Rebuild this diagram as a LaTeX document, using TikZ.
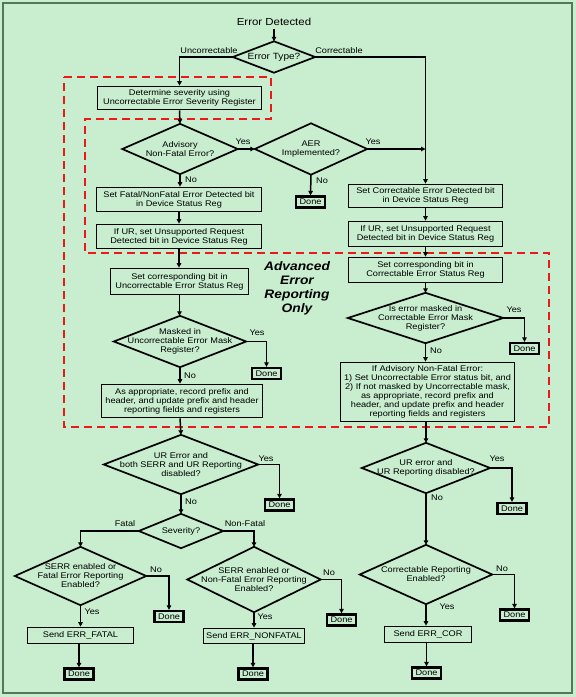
\documentclass[tikz,border=0pt]{standalone}
\usepackage{fontspec}
\setmainfont{Liberation Sans}[FakeStretch=1.12]
\usetikzlibrary{arrows.meta}
\definecolor{bg}{RGB}{200,237,207}
\definecolor{frame}{RGB}{85,118,92}
\definecolor{aerred}{RGB}{235,25,25}
\newcommand\fsm{\fontsize{8.2}{9}\selectfont}
\tikzset{
  box/.style={draw, line width=1.7pt, inner sep=0pt, align=center, font=\fsm},
  donebox/.style={draw, line width=2.3pt, inner sep=0pt, minimum width=29pt, minimum height=11pt, font=\fsm},
  dia/.style={inner sep=0pt, align=center, font=\fsm},
  diaedge/.style={draw, line width=1.7pt, line join=miter},
  arr/.style={line width=1.5pt, -{Triangle[length=4.5pt,width=4.5pt]}},
  lbl/.style={font=\fsm, inner sep=0pt},
  aerbox/.style={draw=aerred, line width=2.2pt, dash pattern=on 8pt off 5pt}
}
\newcommand\diamondof[1]{\draw[diaedge] (#1.north) -- (#1.east) -- (#1.south) -- (#1.west) -- cycle;}
\begin{document}
\begin{tikzpicture}[x=1pt,y=-1pt]
\useasboundingbox (0,0) rectangle (576,697);
\fill[bg] (0,0) rectangle (576,697);
\draw[frame, line width=2pt] (3,3) rectangle (572,693);

% red dashed region
\draw[aerbox] (64,77) -- (271,77) -- (271,119) -- (85,119) -- (85,253) -- (549,253) -- (549,427) -- (64,427) -- cycle;

% nodes
\node[font=\fontsize{10.2}{12}\selectfont] (start) at (274,22) {Error Detected};
\node[dia, minimum width=82pt, minimum height=31pt, font=\fontsize{9}{10}\selectfont] (et) at (274,57) {Error Type?};
\node[box, minimum width=164pt, minimum height=23pt] (sev1) at (179.5,98) {Determine severity using\\Uncorrectable Error Severity Register};
\node[dia, minimum width=115pt, minimum height=50pt] (adv) at (180,149) {Advisory\\Non-Fatal Error?};
\node[dia, minimum width=112pt, minimum height=51pt] (aer) at (311,149) {AER\\Implemented?};
\node[donebox] (done1) at (310.5,202) {Done};
\node[box, minimum width=165pt, minimum height=24pt] (fatalbit) at (179,199.5) {Set Fatal/NonFatal Error Detected bit\\in Device Status Reg};
\node[box, minimum width=165pt, minimum height=24pt] (urL) at (179,236.5) {If UR, set Unsupported Request\\Detected bit in Device Status Reg};
\node[box, minimum width=154pt, minimum height=23pt] (corbit) at (425.5,196) {Set Correctable Error Detected bit\\in Device Status Reg};
\node[box, minimum width=154pt, minimum height=25pt] (urR) at (425.5,234) {If UR, set Unsupported Request\\Detected bit in Device Status Reg};
\node[box, minimum width=138pt, minimum height=26pt] (setL) at (179.5,281.5) {Set corresponding bit in\\Uncorrectable Error Status Reg};
\node[dia, minimum width=132pt, minimum height=51pt] (mskL) at (180,341.5) {Masked in\\Uncorrectable Error Mask\\Register?};
\node[donebox] (done2) at (266.5,373.5) {Done};
\node[box, minimum width=161pt, minimum height=33pt] (recL) at (182,401) {As appropriate, record prefix and\\header, and update prefix and header\\reporting fields and registers};
\node[font=\fontsize{12.3}{14}\selectfont\bfseries\itshape, align=center, inner sep=0pt] (aero) at (297,288) {Advanced\\Error\\Reporting\\Only};
\node[box, minimum width=154pt, minimum height=25pt] (setR) at (425.5,270) {Set corresponding bit in\\Correctable Error Status Reg};
\node[dia, minimum width=155pt, minimum height=50pt] (mskR) at (425.5,318) {Is error masked in\\Correctable Error Mask\\Register?};
\node[donebox] (done3) at (524.5,348.5) {Done};
\node[box, minimum width=174pt, minimum height=59pt] (advR) at (427.5,392) {If Advisory Non-Fatal Error:\\1) Set Uncorrectable Error status bit, and\\2) If not masked by Uncorrectable mask,\\as appropriate, record prefix and\\header, and update prefix and header\\reporting fields and registers};
\node[dia, minimum width=154pt, minimum height=59pt] (urdL) at (181,464.5) {UR Error and\\both SERR and UR Reporting\\disabled?};
\node[donebox] (done4) at (279.5,505) {Done};
\node[dia, minimum width=84pt, minimum height=34pt] (sevd) at (181,531) {Severity?};
\node[dia, minimum width=131pt, minimum height=58pt] (fat) at (80.5,576) {SERR enabled or\\Fatal Error Reporting\\Enabled?};
\node[donebox] (done5) at (169,616.5) {Done};
\node[box, minimum width=106pt, minimum height=16pt] (sendF) at (80.5,635.5) {Send ERR\_FATAL};
\node[donebox] (done6) at (79,674) {Done};
\node[dia, minimum width=133pt, minimum height=65pt] (nf) at (254,579.5) {SERR enabled or\\Non-Fatal Error Reporting\\Enabled?};
\node[donebox] (done7) at (341.5,620) {Done};
\node[box, minimum width=101pt, minimum height=15pt] (sendNF) at (254,636) {Send ERR\_NONFATAL};
\node[donebox] (done8) at (253,674) {Done};
\node[dia, minimum width=128pt, minimum height=50pt] (urdR) at (426,468) {UR error and\\UR Reporting disabled?};
\node[donebox] (done9) at (512,508.5) {Done};
\node[dia, minimum width=132pt, minimum height=59pt] (cre) at (426,574.5) {Correctable Reporting\\Enabled?};
\node[donebox] (done10) at (514.5,615) {Done};
\node[box, minimum width=87pt, minimum height=16pt] (sendC) at (428,634.5) {Send ERR\_COR};
\node[donebox] (done11) at (426.5,673) {Done};

\foreach \d in {et,adv,aer,mskL,mskR,urdL,sevd,fat,nf,urdR,cre} {\diamondof{\d}}

% connectors
\draw[arr] (start.south) -- (et.north);
\draw[arr] (et.west) -| (sev1.north);
\draw[arr] (et.east) -| (corbit.north);
\draw[arr] (sev1.south) -- (adv.north);
\draw[arr] (adv.east) -- (aer.west);
\draw[arr] (aer.east) -- (aer.east -| corbit.north);
\draw[arr] (aer.south) -- (done1.north);
\draw[arr] (adv.south) -- (adv.south |- fatalbit.north);
\draw[arr] (fatalbit.south) -- (urL.north);
\draw[arr] (urL.south) -- (urL.south |- setL.north);
\draw[arr] (setL.south) -- (setL.south |- mskL.north);
\draw[arr] (mskL.east) -| (done2.north);
\draw[arr] (mskL.south) -- (mskL.south |- recL.north);
\draw[arr] (mskL.south |- recL.south) -- (urdL.north);
\draw[arr] (corbit.south) -- (urR.north);
\draw[arr] (urR.south) -- (setR.north);
\draw[arr] (setR.south) -- (mskR.north);
\draw[arr] (mskR.east) -| (done3.north);
\draw[arr] (mskR.south) -- (mskR.south |- advR.north);
\draw[arr] (urdR.north |- advR.south) -- (urdR.north);
\draw[arr] (urdL.east) -| (done4.north);
\draw[arr] (urdL.south) -- (sevd.north);
\draw[arr] (sevd.west) -| (fat.north);
\draw[arr] (sevd.east) -| (nf.north);
\draw[arr] (fat.east) -| (done5.north);
\draw[arr] (fat.south) -- (fat.south |- sendF.north);
\draw[arr] (done6.north |- sendF.south) -- (done6.north);
\draw[arr] (nf.east) -| (done7.north);
\draw[arr] (nf.south) -- (sendNF.north);
\draw[arr] (done8.north |- sendNF.south) -- (done8.north);
\draw[arr] (urdR.east) -| (done9.north);
\draw[arr] (urdR.south) -- (cre.north);
\draw[arr] (cre.east) -| (done10.north);
\draw[arr] (cre.south) -- (cre.south |- sendC.north);
\draw[arr] (done11.north |- sendC.south) -- (done11.north);

% labels
\node[lbl] (l1) at (209,51) {Uncorrectable};
\node[lbl] (l2) at (339,51) {Correctable};
\node[lbl] (l3) at (243,142) {Yes};
\node[lbl] (l4) at (373,142) {Yes};
\node[lbl] (l5) at (322,181) {No};
\node[lbl] (l6) at (191,180) {No};
\node[lbl] (l7) at (257,333) {Yes};
\node[lbl] (l8) at (190,376) {No};
\node[lbl] (l9) at (514,310) {Yes};
\node[lbl] (l10) at (436,351) {No};
\node[lbl] (l11) at (266,459) {Yes};
\node[lbl] (l12) at (191,502) {No};
\node[lbl] (l13) at (125,524) {Fatal};
\node[lbl] (l14) at (245,524) {Non-Fatal};
\node[lbl] (l15) at (156,570) {No};
\node[lbl] (l16) at (92,612) {Yes};
\node[lbl] (l17) at (329,573) {No};
\node[lbl] (l18) at (265,617) {Yes};
\node[lbl] (l19) at (497,459) {Yes};
\node[lbl] (l20) at (437,498) {No};
\node[lbl] (l21) at (502,569) {No};
\node[lbl] (l22) at (447,607) {Yes};
\end{tikzpicture}
\end{document}
